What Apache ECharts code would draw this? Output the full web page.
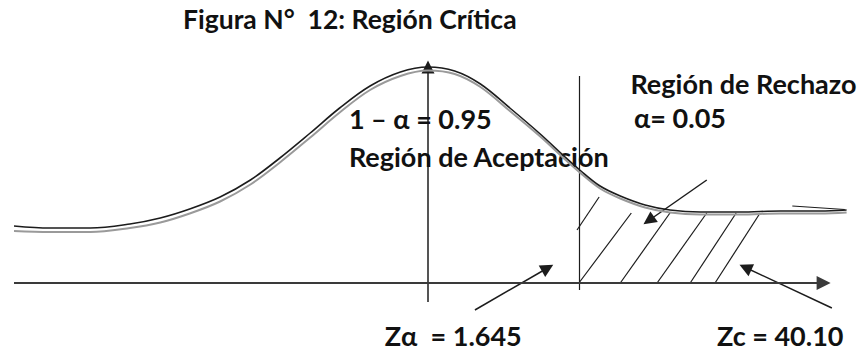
<!DOCTYPE html>
<html>
<head>
<meta charset="utf-8">
<script src="https://cdn.jsdelivr.net/npm/echarts@6/dist/echarts.min.js"></script>
<style>
  html, body { margin: 0; padding: 0; background: #ffffff; }
  #chart { width: 865px; height: 350px; }
</style>
</head>
<body>
<div id="chart"></div>
<script>
// Bell curve, traced as a dark stroke with a lighter shadow stroke (z, height)
const curveZ     = [-4.5, -4.11, -3.67, -3.24, -2.91, -2.59, -2.26, -1.93, -1.61, -1.28, -0.96, -0.63, -0.30, 0, 0.29, 0.57, 0.89, 1.22, 1.49, 1.65, 1.87, 2.09, 2.36, 2.63, 2.96, 3.39, 3.83, 4.26, 4.55];
const curveDark  = [0.114, 0.110, 0.110, 0.118, 0.130, 0.148, 0.172, 0.206, 0.250, 0.300, 0.350, 0.394, 0.422, 0.432, 0.424, 0.398, 0.350, 0.298, 0.252, 0.226, 0.194, 0.174, 0.156, 0.146, 0.142, 0.142, 0.144, 0.144, 0.146];
const curveLight = [0.104, 0.102, 0.102, 0.110, 0.121, 0.139, 0.163, 0.197, 0.241, 0.291, 0.341, 0.386, 0.414, 0.425, 0.418, 0.392, 0.344, 0.293, 0.247, 0.221, 0.189, 0.169, 0.151, 0.141, 0.137, 0.137, 0.139, 0.139, 0.141];

// Critical value on the z scale
const zAlpha = 1.645;

// Hatching of the rejection region: [zBottom, hBottom, zTop, hTop]
const hatchLines = [
  [1.62, 0.106, 1.86, 0.172],
  [1.64, 0.000, 2.21, 0.140],
  [2.09, 0.000, 2.63, 0.140],
  [2.49, 0.000, 3.03, 0.140],
  [2.85, 0.000, 3.35, 0.140],
  [3.12, 0.000, 3.61, 0.140]
];

// Pointer arrows: [zFrom, hFrom, zTo, hTo]
const pointerArrows = [
  [0.51, -0.054, 1.30, 0.030],
  [4.39, -0.050, 3.45, 0.031],
  [3.03, 0.206, 2.40, 0.125]
];

// Tail flourish at the right end of the curve
const tailFlourish = [3.96, 0.154, 4.53, 0.147];

// Horizontal z axis, vertical mean axis and the critical-value line
const zAxisLine = [-4.5, 0, 4.30, 0];
const meanAxisLine = [0, -0.038, 0, 0.432];
const criticalLine = [zAlpha - 0.004, 0.414, zAlpha - 0.004, -0.014];

// Annotations: text, anchor z, anchor height (left edge, vertical middle)
const noteText = ['1 \u2013 \u03b1 = 0.95', 'Regi\u00f3n de Aceptaci\u00f3n', 'Regi\u00f3n de Rechazo', '\u03b1= 0.05', 'Z\u03b1  = 1.645', 'Zc = 40.10'];
const noteZ    = [-0.86, -0.86, 2.20, 2.24, -0.47, 3.14];
const noteH    = [0.330, 0.254, 0.400, 0.332, -0.104, -0.104];

const titleText = 'Figura N\u00b0  12: Regi\u00f3n Cr\u00edtica';

const ink = '#111111';
const fontFamily = 'Lato, "Open Sans", sans-serif';

function segments(list) {
  return list.map(s => ({ coords: [[s[0], s[1]], [s[2], s[3]]] }));
}

const chart = echarts.init(document.getElementById('chart'), null, { renderer: 'svg' });

chart.setOption({
  animation: false,
  backgroundColor: '#ffffff',
  title: {
    text: titleText,
    left: 178,
    top: 0,
    textStyle: { fontFamily: fontFamily, fontWeight: 'bold', fontSize: 26.5, lineHeight: 28, color: ink }
  },
  grid: { left: 14, right: 0, top: 33, bottom: 7 },
  xAxis: { type: 'value', min: -4.5, max: 4.75, show: false },
  yAxis: { type: 'value', min: -0.12, max: 0.5, show: false },
  series: [
    {
      type: 'line',
      data: curveZ.map((z, i) => [z, curveLight[i]]),
      smooth: 0.35,
      symbol: 'none',
      clip: false,
      lineStyle: { color: '#9a9a9a', width: 2 }
    },
    {
      type: 'line',
      data: curveZ.map((z, i) => [z, curveDark[i]]),
      smooth: 0.35,
      symbol: 'none',
      clip: false,
      lineStyle: { color: '#1c1c1c', width: 1.6 }
    },
    {
      type: 'lines',
      coordinateSystem: 'cartesian2d',
      clip: false,
      symbol: 'none',
      lineStyle: { color: '#1c1c1c', width: 1.2, opacity: 1 },
      data: segments(hatchLines.concat([tailFlourish, criticalLine]))
    },
    {
      type: 'lines',
      coordinateSystem: 'cartesian2d',
      clip: false,
      symbol: ['none', 'triangle'],
      symbolSize: [11, 13],
      lineStyle: { color: '#1c1c1c', width: 1.5, opacity: 1 },
      itemStyle: { color: '#111111' },
      data: segments(pointerArrows.concat([meanAxisLine]))
    },
    {
      type: 'lines',
      coordinateSystem: 'cartesian2d',
      clip: false,
      symbol: ['none', 'triangle'],
      symbolSize: [13, 14],
      lineStyle: { color: '#3a3a3a', width: 2, opacity: 1 },
      itemStyle: { color: '#111111' },
      data: segments([zAxisLine])
    },
    {
      type: 'scatter',
      clip: false,
      symbolSize: 0,
      silent: true,
      itemStyle: { opacity: 1 },
      data: noteText.map((t, i) => ({ name: t, value: [noteZ[i], noteH[i]] })),
      label: {
        show: true,
        position: 'right',
        distance: 0,
        formatter: '{b}',
        fontFamily: fontFamily,
        fontWeight: 'bold',
        fontSize: 27,
        lineHeight: 26,
        color: ink
      }
    }
  ]
});
</script>
</body>
</html>
